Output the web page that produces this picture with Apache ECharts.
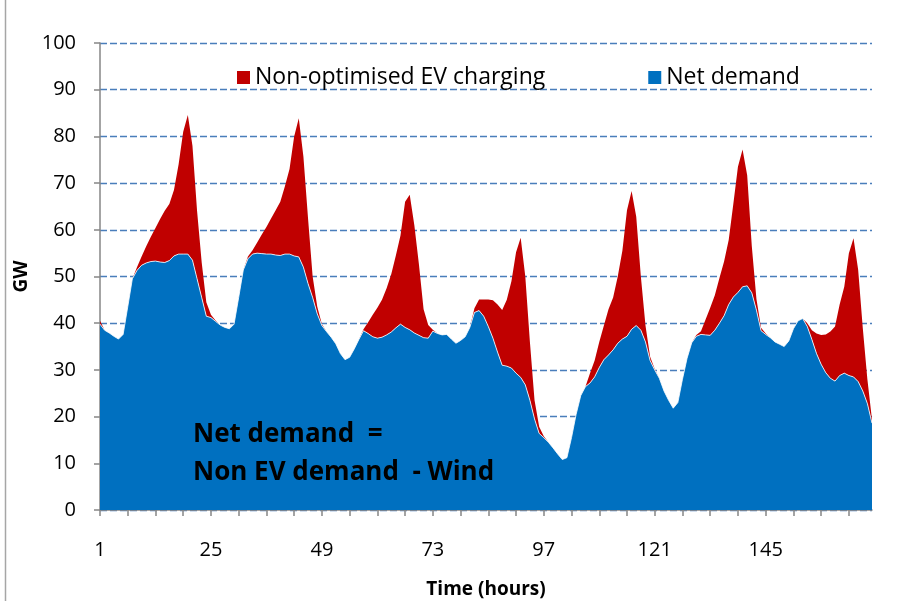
<!DOCTYPE html>
<html lang="en">
<head>
	<meta charset="UTF-8">
	<title>Net demand and EV charging</title>
	<style>
		html, body { margin: 0; padding: 0; background: #fff; }
		#chart { width: 898px; height: 601px; }
	</style>
</head>
<body>
	<div id="chart"></div>

	<script src="https://cdn.jsdelivr.net/npm/echarts@6/dist/echarts.min.js"></script>
	<script>
		// hourly values over one week, GW
		var netDemand = [
			39.8, 38.5, 37.9, 37.2, 36.6, 37.6, 43.5, 49.5, 51.3, 52.4, 52.9, 53.2,
			53.3, 53.1, 53.0, 53.4, 54.4, 54.8, 54.8, 54.8, 53.5, 49.5, 45.5, 41.5,
			41.2, 40.4, 39.6, 39.1, 38.8, 39.8, 45.5, 51.4, 53.8, 54.8, 55.0, 54.9,
			54.8, 54.8, 54.6, 54.5, 54.8, 54.8, 54.4, 54.2, 52.0, 48.5, 45.5, 42.0,
			39.5, 38.2, 37.0, 35.6, 33.5, 32.2, 32.7, 34.5, 36.5, 38.4, 37.8, 37.1,
			36.8, 37.0, 37.5, 38.1, 39.0, 39.8, 39.1, 38.6, 37.9, 37.4, 36.9, 36.8,
			38.3, 37.8, 37.5, 37.6, 36.6, 35.7, 36.3, 37.1, 39.1, 42.3, 42.7, 41.5,
			39.3, 36.8, 33.8, 31.0, 30.8, 30.4, 29.3, 28.4, 26.8, 23.5, 19.5, 16.4,
			15.5, 14.5, 13.3, 12.0, 10.8, 11.2, 15.5, 20.5, 24.5, 26.4, 27.2, 28.5,
			30.5, 32.2, 33.2, 34.3, 35.7, 36.6, 37.2, 38.7, 39.5, 38.5, 36.0, 32.0,
			30.0, 28.2, 25.5, 23.5, 21.8, 23.0, 28.0, 32.5, 35.8, 37.2, 37.6, 37.5,
			37.4, 38.5, 40.0, 41.6, 44.0, 45.6, 46.6, 47.8, 48.0, 46.5, 42.8, 38.4,
			37.6, 36.9, 36.0, 35.5, 35.0, 36.2, 38.8, 40.5, 41.0, 39.3, 36.5, 33.5,
			31.2, 29.4, 28.2, 27.6, 28.8, 29.3, 28.8, 28.5, 27.5, 25.5, 22.8, 18.6
		];
		var evCharging = [
			0.7, 0, 0, 0, 0, 0, 0, 0, 0.7, 1.9, 3.6, 5.3,
			7.1, 9.2, 11.1, 12.1, 14.1, 19.2, 26.2, 29.8, 24.5, 14.5, 7.5, 3.0,
			0.6, 0.2, 0, 0, 0, 0, 0, 0, 0.5, 0.8, 2.3, 4.1,
			5.8, 7.6, 9.6, 11.5, 14.5, 18.2, 25.6, 29.7, 23.7, 14.0, 4.5, 1.5,
			0.3, 0, 0, 0, 0, 0, 0, 0, 0, 0.3, 2.4, 4.7,
			6.5, 8.0, 10.0, 12.4, 15.5, 19.0, 26.9, 28.9, 23.1, 15.1, 6.1, 2.8,
			0.3, 0, 0, 0, 0, 0, 0, 0, 0, 0.9, 2.4, 3.6,
			5.8, 8.1, 10.2, 11.8, 14.2, 18.6, 25.9, 29.9, 23.2, 12.5, 4.0, 1.4,
			0.3, 0, 0, 0, 0, 0, 0, 0, 0, 0, 2.1, 3.5,
			5.5, 7.3, 9.8, 11.2, 14.3, 18.9, 27.0, 29.6, 23.3, 11.5, 3.5, 0.8,
			0.2, 0, 0, 0, 0, 0, 0, 0, 0, 0.3, 0.7, 3.3,
			5.9, 7.5, 9.7, 11.6, 13.8, 19.9, 26.9, 29.4, 23.7, 10.0, 2.4, 0.6,
			0.2, 0, 0, 0, 0, 0, 0, 0, 0, 0.7, 2.0, 4.3,
			6.3, 8.2, 10.0, 11.7, 15.2, 18.5, 26.2, 29.7, 24.0, 13.5, 5.2, 0.7
		];
		var hours = [];
		for (var i = 1; i <= netDemand.length; i++) hours.push(String(i));
		var yTicks = [0, 10, 20, 30, 40, 50, 60, 70, 80, 90, 100];

		var font = 'Open Sans';
		var option = {
			animation: false,
			backgroundColor: '#fff',
			grid: { left: 100, right: 26, top: 43, bottom: 91, outerBoundsMode: 'none' },
			legend: {
				left: 237, top: 66, padding: 0,
				itemWidth: 13, itemHeight: 13, itemGap: 103,
				icon: 'rect',
				data: ['Non-optimised EV charging', 'Net demand'],
				textStyle: { fontFamily: font, fontSize: 23, color: '#000' }
			},
			xAxis: {
				type: 'category',
				data: hours,
				boundaryGap: false,
				name: 'Time (hours)',
				nameLocation: 'middle',
				nameGap: 70,
				nameTextStyle: { fontFamily: font, fontSize: 19, fontWeight: 'bold', color: '#000' },
				axisLine: { lineStyle: { color: '#868686', width: 1.5 } },
				axisTick: { interval: 5, length: 6, lineStyle: { color: '#868686', width: 1.5 } },
				axisLabel: { interval: 23, margin: 30, fontFamily: font, fontSize: 20, color: '#000' },
				splitLine: { show: false }
			},
			yAxis: {
				type: 'value',
				min: yTicks[0], max: yTicks[yTicks.length - 1], interval: 10,
				name: 'GW',
				nameLocation: 'middle',
				nameGap: 57,
				nameRotate: 90,
				nameTextStyle: { fontFamily: font, fontSize: 19, fontWeight: 'bold', color: '#000' },
				axisLine: { show: true, lineStyle: { color: '#868686', width: 1.5 } },
				axisTick: { show: true, length: 6, lineStyle: { color: '#868686', width: 1.5 } },
				axisLabel: { margin: 24, fontFamily: font, fontSize: 20, color: '#000' },
				splitLine: { lineStyle: { color: '#4A7EBB', width: 1.4, type: [7, 3] } }
			},
			series: [
				{
					name: 'Net demand',
					type: 'line',
					stack: 'demand',
					data: netDemand,
					showSymbol: false,
					color: '#0070C0',
					lineStyle: { color: 'rgba(255,255,255,0.8)', width: 1 },
					areaStyle: { color: '#0070C0', opacity: 1 },
					z: 3
				},
				{
					name: 'Non-optimised EV charging',
					type: 'line',
					stack: 'demand',
					data: evCharging,
					showSymbol: false,
					color: '#C00000',
					lineStyle: { width: 0 },
					areaStyle: { color: '#C00000', opacity: 1 },
					z: 2
				}
			],
			graphic: [
				{ type: 'line', shape: { x1: 5.5, y1: 0, x2: 5.5, y2: 601 }, style: { stroke: '#a6a6a6', lineWidth: 1.5 } },
				{
					type: 'text', left: 193, top: 422, z: 10,
					style: { text: 'Net demand  =', fontFamily: font, fontSize: 26, fontWeight: 'bold', fill: '#000' }
				},
				{
					type: 'text', left: 193, top: 460, z: 10,
					style: { text: 'Non EV demand  - Wind', fontFamily: font, fontSize: 26, fontWeight: 'bold', fill: '#000' }
				}
			]
		};

		var myChart = echarts.init(document.getElementById('chart'));
		myChart.setOption(option);
	</script>
</body>
</html>
